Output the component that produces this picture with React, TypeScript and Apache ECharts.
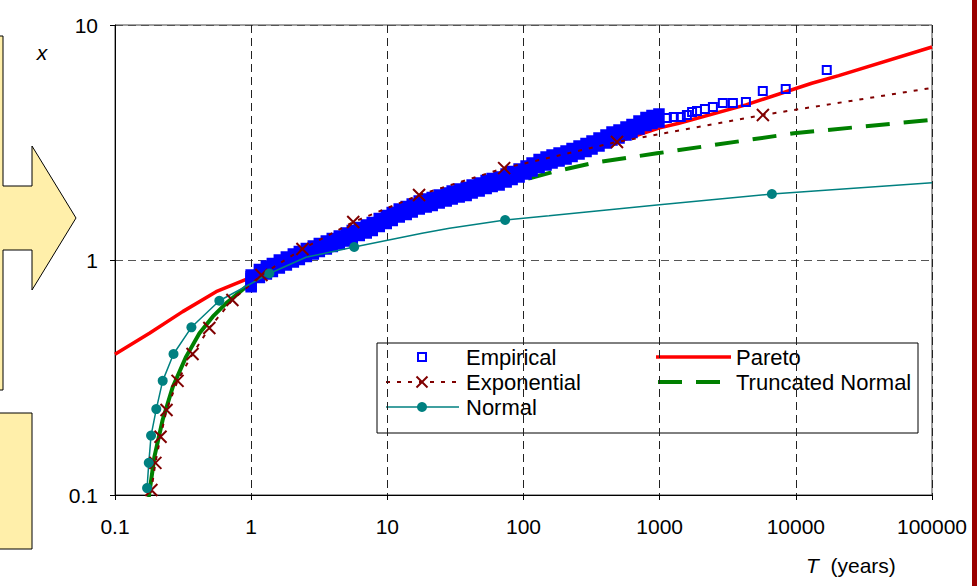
import React, { useEffect, useRef } from 'react';
import * as echarts from 'echarts';

const FONT = '"Liberation Sans", Arial, Helvetica, sans-serif';

// ---- Data: [T (years), x] ----
const empiricalDense: [number, number][] = [
  [1.0, 0.8], [1.0, 0.815], [1.0, 0.83], [1.149, 0.876], [1.293, 0.907], [1.431, 0.929], [1.61, 0.962],
  [1.813, 0.99], [2.04, 1.02], [2.258, 1.045], [2.541, 1.076], [2.86, 1.103], [3.166, 1.13],
  [3.563, 1.158], [3.941, 1.187], [4.437, 1.216], [4.994, 1.253], [5.527, 1.284], [6.219, 1.322],
  [7.0, 1.355], [7.748, 1.388], [8.722, 1.444], [9.815, 1.487], [10.86, 1.531], [12.23, 1.585],
  [13.76, 1.624], [15.23, 1.664], [17.15, 1.714], [19.29, 1.748], [21.35, 1.774], [24.03, 1.818],
  [27.05, 1.854], [29.94, 1.89], [33.7, 1.928], [37.92, 1.956], [41.97, 2.005], [47.24, 2.045],
  [53.17, 2.096], [58.85, 2.137], [66.22, 2.169], [74.54, 2.234], [82.48, 2.289], [92.84, 2.346],
  [104.5, 2.415], [115.6, 2.487], [130.2, 2.574], [146.5, 2.638], [162.1, 2.69], [182.5, 2.743],
  [205.4, 2.797], [227.3, 2.867], [255.8, 2.938], [287.9, 3.011], [318.6, 3.085], [358.6, 3.177],
  [403.6, 3.272], [446.7, 3.371], [502.8, 3.437], [565.9, 3.539], [626.3, 3.627], [704.8, 3.754],
  [793.4, 3.885], [878.2, 3.962], [988, 4.021],
];
const empiricalSparse: [number, number][] = [
  [1130, 4.02], [1270, 4.06], [1430, 4.06], [1585, 4.14], [1730, 4.26], [1880, 4.31],
  [2150, 4.39], [2460, 4.48], [2910, 4.66], [3450, 4.66], [4300, 4.7], [5720, 5.24],
  [8430, 5.34], [16870, 6.44],
];
const paretoCurve: [number, number][] = [
  [0.1, 0.397], [0.179, 0.488], [0.314, 0.603], [0.553, 0.733], [0.918, 0.828], [2, 1.02],
  [5, 1.27], [10, 1.5], [30, 1.88], [100, 2.33], [300, 2.9], [1000, 3.65], [1385, 3.82],
  [4295, 4.57], [13090, 5.65], [20650, 6.09], [100000, 8.06],
];
const exponentialMarkers: [number, number][] = [
  [0.185, 0.105], [0.198, 0.137], [0.216, 0.177], [0.239, 0.23], [0.288, 0.306], [0.371, 0.398],
  [0.493, 0.514], [0.728, 0.676], [1.19, 0.864], [2.38, 1.114], [5.62, 1.45], [17.1, 1.89],
  [72.1, 2.46], [486, 3.18], [5730, 4.14],
];
const exponentialLineOnly: [number, number][] = [[0.178, 0.092], [100000, 5.4]];
const normalMarkers: [number, number][] = [
  [0.172, 0.107], [0.177, 0.137], [0.184, 0.179], [0.201, 0.232], [0.224, 0.306], [0.269, 0.398],
  [0.364, 0.517], [0.584, 0.671], [1.36, 0.876], [5.71, 1.136], [73.3, 1.48], [6670, 1.91],
];
const normalLineOnly: [number, number][] = [
  [2.53, 1.027], [18, 1.3], [28.6, 1.364], [154, 1.543], [955, 1.714], [100000, 2.13],
];
const truncNormalLow: [number, number][] = [
  [0.17, 0.085], [0.177, 0.098], [0.195, 0.146], [0.224, 0.209], [0.266, 0.289], [0.333, 0.388],
  [0.417, 0.488], [0.522, 0.574], [0.654, 0.654], [0.918, 0.769],
];
const truncNormalHigh: [number, number][] = [
  [0.918, 0.769], [1.2, 0.86], [2, 1.0], [4, 1.2], [10, 1.5], [30, 1.88], [60, 2.08],
  [110.6, 2.227], [167.7, 2.376], [329.6, 2.594], [955, 2.844], [9660, 3.46], [100000, 3.95],
];
const legendLeft = ['Empirical', 'Exponential', 'Normal'];
const legendRight = ['Pareto', 'Truncated Normal'];
const xAxisTitle = 'T';
const xAxisUnit = '(years)';
const yAxisTitle = 'x';

const fmt = (v: number) => String(Number(v.toPrecision(6)));

export default function App() {
  const ref = useRef<HTMLDivElement>(null);
  useEffect(() => {
    if (!ref.current) return;
    const chart = echarts.init(ref.current, null, { renderer: 'svg' });

    const BLUE = '#0000FF';
    const MAROON = '#800000';
    const TEAL = '#008080';
    const RED = '#FF0000';
    const GREEN = '#008000';
    const YELLOW = '#FFEFAA';

    const empiricalData = [
      ...empiricalDense.map((p) => ({ value: p, symbolSize: [10, 17], itemStyle: { color: BLUE } })),
      ...empiricalSparse.map((p) => ({ value: p })),
    ];
    const expoData = [
      ...exponentialMarkers.map((p) => ({ value: p })),
      ...exponentialLineOnly.map((p) => ({ value: p, symbol: 'none' })),
    ].sort((a, b) => a.value[0] - b.value[0]);
    const normalData = [
      ...normalMarkers.map((p) => ({ value: p })),
      ...normalLineOnly.map((p) => ({ value: p, symbol: 'none' })),
    ].sort((a, b) => a.value[0] - b.value[0]);

    const axisCommon = {
      type: 'log' as const,
      logBase: 10,
      axisLine: { show: true, onZero: false, lineStyle: { color: '#000', width: 1 } },
      axisTick: { show: true, inside: false, length: 5, lineStyle: { color: '#000', width: 1 } },
      minorTick: { show: false },
      minorSplitLine: { show: false },
    };

    const legendFont = `22px ${FONT}`;
    const legendItems: any[] = [
      { type: 'rect', shape: { x: 377, y: 343, width: 541, height: 90 }, style: { fill: '#fff', stroke: '#000', lineWidth: 1 } },
      // Empirical
      { type: 'rect', shape: { x: 418, y: 353, width: 8, height: 8 }, style: { fill: 'none', stroke: BLUE, lineWidth: 2 } },
      { type: 'text', x: 466, y: 357, style: { text: legendLeft[0], font: legendFont, fill: '#000', verticalAlign: 'middle' } },
      // Exponential
      { type: 'line', shape: { x1: 386, y1: 382, x2: 456, y2: 382 }, style: { stroke: MAROON, lineWidth: 2, lineDash: [4, 7] } },
      { type: 'line', shape: { x1: 416.5, y1: 376.5, x2: 427.5, y2: 387.5 }, style: { stroke: MAROON, lineWidth: 2 } },
      { type: 'line', shape: { x1: 416.5, y1: 387.5, x2: 427.5, y2: 376.5 }, style: { stroke: MAROON, lineWidth: 2 } },
      { type: 'text', x: 466, y: 382, style: { text: legendLeft[1], font: legendFont, fill: '#000', verticalAlign: 'middle' } },
      // Normal
      { type: 'line', shape: { x1: 386, y1: 407, x2: 459, y2: 407 }, style: { stroke: TEAL, lineWidth: 1.5 } },
      { type: 'circle', shape: { cx: 422, cy: 407, r: 5 }, style: { fill: TEAL } },
      { type: 'text', x: 466, y: 407, style: { text: legendLeft[2], font: legendFont, fill: '#000', verticalAlign: 'middle' } },
      // Pareto
      { type: 'line', shape: { x1: 656, y1: 357, x2: 731, y2: 357 }, style: { stroke: RED, lineWidth: 3.5 } },
      { type: 'text', x: 736, y: 357, style: { text: legendRight[0], font: legendFont, fill: '#000', verticalAlign: 'middle' } },
      // Truncated Normal
      { type: 'line', shape: { x1: 658, y1: 382, x2: 721, y2: 382 }, style: { stroke: GREEN, lineWidth: 4, lineDash: [24, 14] } },
      { type: 'text', x: 736, y: 382, style: { text: legendRight[1], font: legendFont, fill: '#000', verticalAlign: 'middle' } },
    ];

    const option: any = {
      animation: false,
      backgroundColor: '#fff',
      textStyle: { fontFamily: FONT },
      grid: { left: 115, right: 45, top: 25, bottom: 91, show: true, borderColor: '#444', borderWidth: 1, backgroundColor: 'transparent' },
      xAxis: {
        ...axisCommon,
        min: 0.1,
        max: 100000,
        splitNumber: 6,
        axisLabel: { color: '#000', fontSize: 21, fontFamily: FONT, margin: 21, formatter: fmt },
        splitLine: { show: true, lineStyle: { color: '#222', width: 1, type: [8, 5] } },
      },
      yAxis: {
        ...axisCommon,
        min: 0.1,
        max: 10,
        splitNumber: 2,
        axisLabel: { color: '#000', fontSize: 21, fontFamily: FONT, margin: 17, formatter: fmt },
        splitLine: { show: true, lineStyle: { color: '#555', width: 1, type: [8, 5] } },
      },
      series: [
        {
          name: 'Pareto', type: 'line', data: paretoCurve, symbol: 'none', silent: true,
          lineStyle: { color: RED, width: 3.5 }, itemStyle: { color: RED }, z: 2,
        },
        {
          name: 'Truncated Normal', type: 'line', data: truncNormalHigh, symbol: 'none', silent: true,
          lineStyle: { color: GREEN, width: 4, type: [24, 14] }, itemStyle: { color: GREEN }, z: 2,
        },
        {
          name: 'Truncated Normal', type: 'line', data: truncNormalLow, symbol: 'none', silent: true,
          lineStyle: { color: GREEN, width: 4 }, itemStyle: { color: GREEN }, z: 2,
        },
        {
          name: 'Empirical', type: 'scatter', data: empiricalData, symbol: 'rect', symbolSize: 8, silent: true,
          itemStyle: { color: 'rgba(0,0,0,0)', borderColor: BLUE, borderWidth: 2, opacity: 1 }, z: 3,
        },
        {
          name: 'Exponential', type: 'line', data: expoData, silent: true, showAllSymbol: true,
          symbol: 'path://M0,0L10,10M10,0L0,10', symbolSize: 12,
          lineStyle: { color: MAROON, width: 2, type: [4, 7] },
          itemStyle: { color: MAROON, borderColor: MAROON, borderWidth: 2 }, z: 4,
        },
        {
          name: 'Normal', type: 'line', data: normalData, silent: true, showAllSymbol: true,
          symbol: 'circle', symbolSize: 10,
          lineStyle: { color: TEAL, width: 1.5 },
          itemStyle: { color: TEAL, borderWidth: 0 }, z: 4,
        },
      ],
      graphic: [
        {
          type: 'polygon', z: 10,
          shape: { points: [[-2, 36], [3, 36], [3, 186], [32, 186], [32, 146], [76, 218], [32, 290], [32, 250], [3, 250], [3, 390], [-2, 390]] },
          style: { fill: YELLOW, stroke: '#000', lineWidth: 1 },
        },
        { type: 'rect', z: 10, shape: { x: -2, y: 413, width: 34, height: 136 }, style: { fill: YELLOW, stroke: '#000', lineWidth: 1 } },
        { type: 'rect', z: 10, shape: { x: 972, y: 0, width: 5, height: 586 }, style: { fill: '#990000' } },
        { type: 'text', z: 10, x: 42, y: 52, style: { text: yAxisTitle, font: `italic 21px ${FONT}`, fill: '#000', align: 'center', verticalAlign: 'middle' } },
        {
          type: 'text', z: 10, x: 806, y: 565,
          style: {
            text: `{i|${xAxisTitle}}  ${xAxisUnit}`,
            fontSize: 21, fontFamily: FONT, fill: '#000', verticalAlign: 'middle',
            rich: { i: { fontStyle: 'italic', fontSize: 21, fontFamily: FONT, fill: '#000' } },
          },
        },
        { type: 'group', z: 100, children: legendItems },
      ],
    };
    chart.setOption(option);
    return () => chart.dispose();
  }, []);
  return (
    <div
      ref={ref}
      style={{ position: 'fixed', left: 0, top: 0, width: 977, height: 586, background: '#fff' }}
    />
  );
}
